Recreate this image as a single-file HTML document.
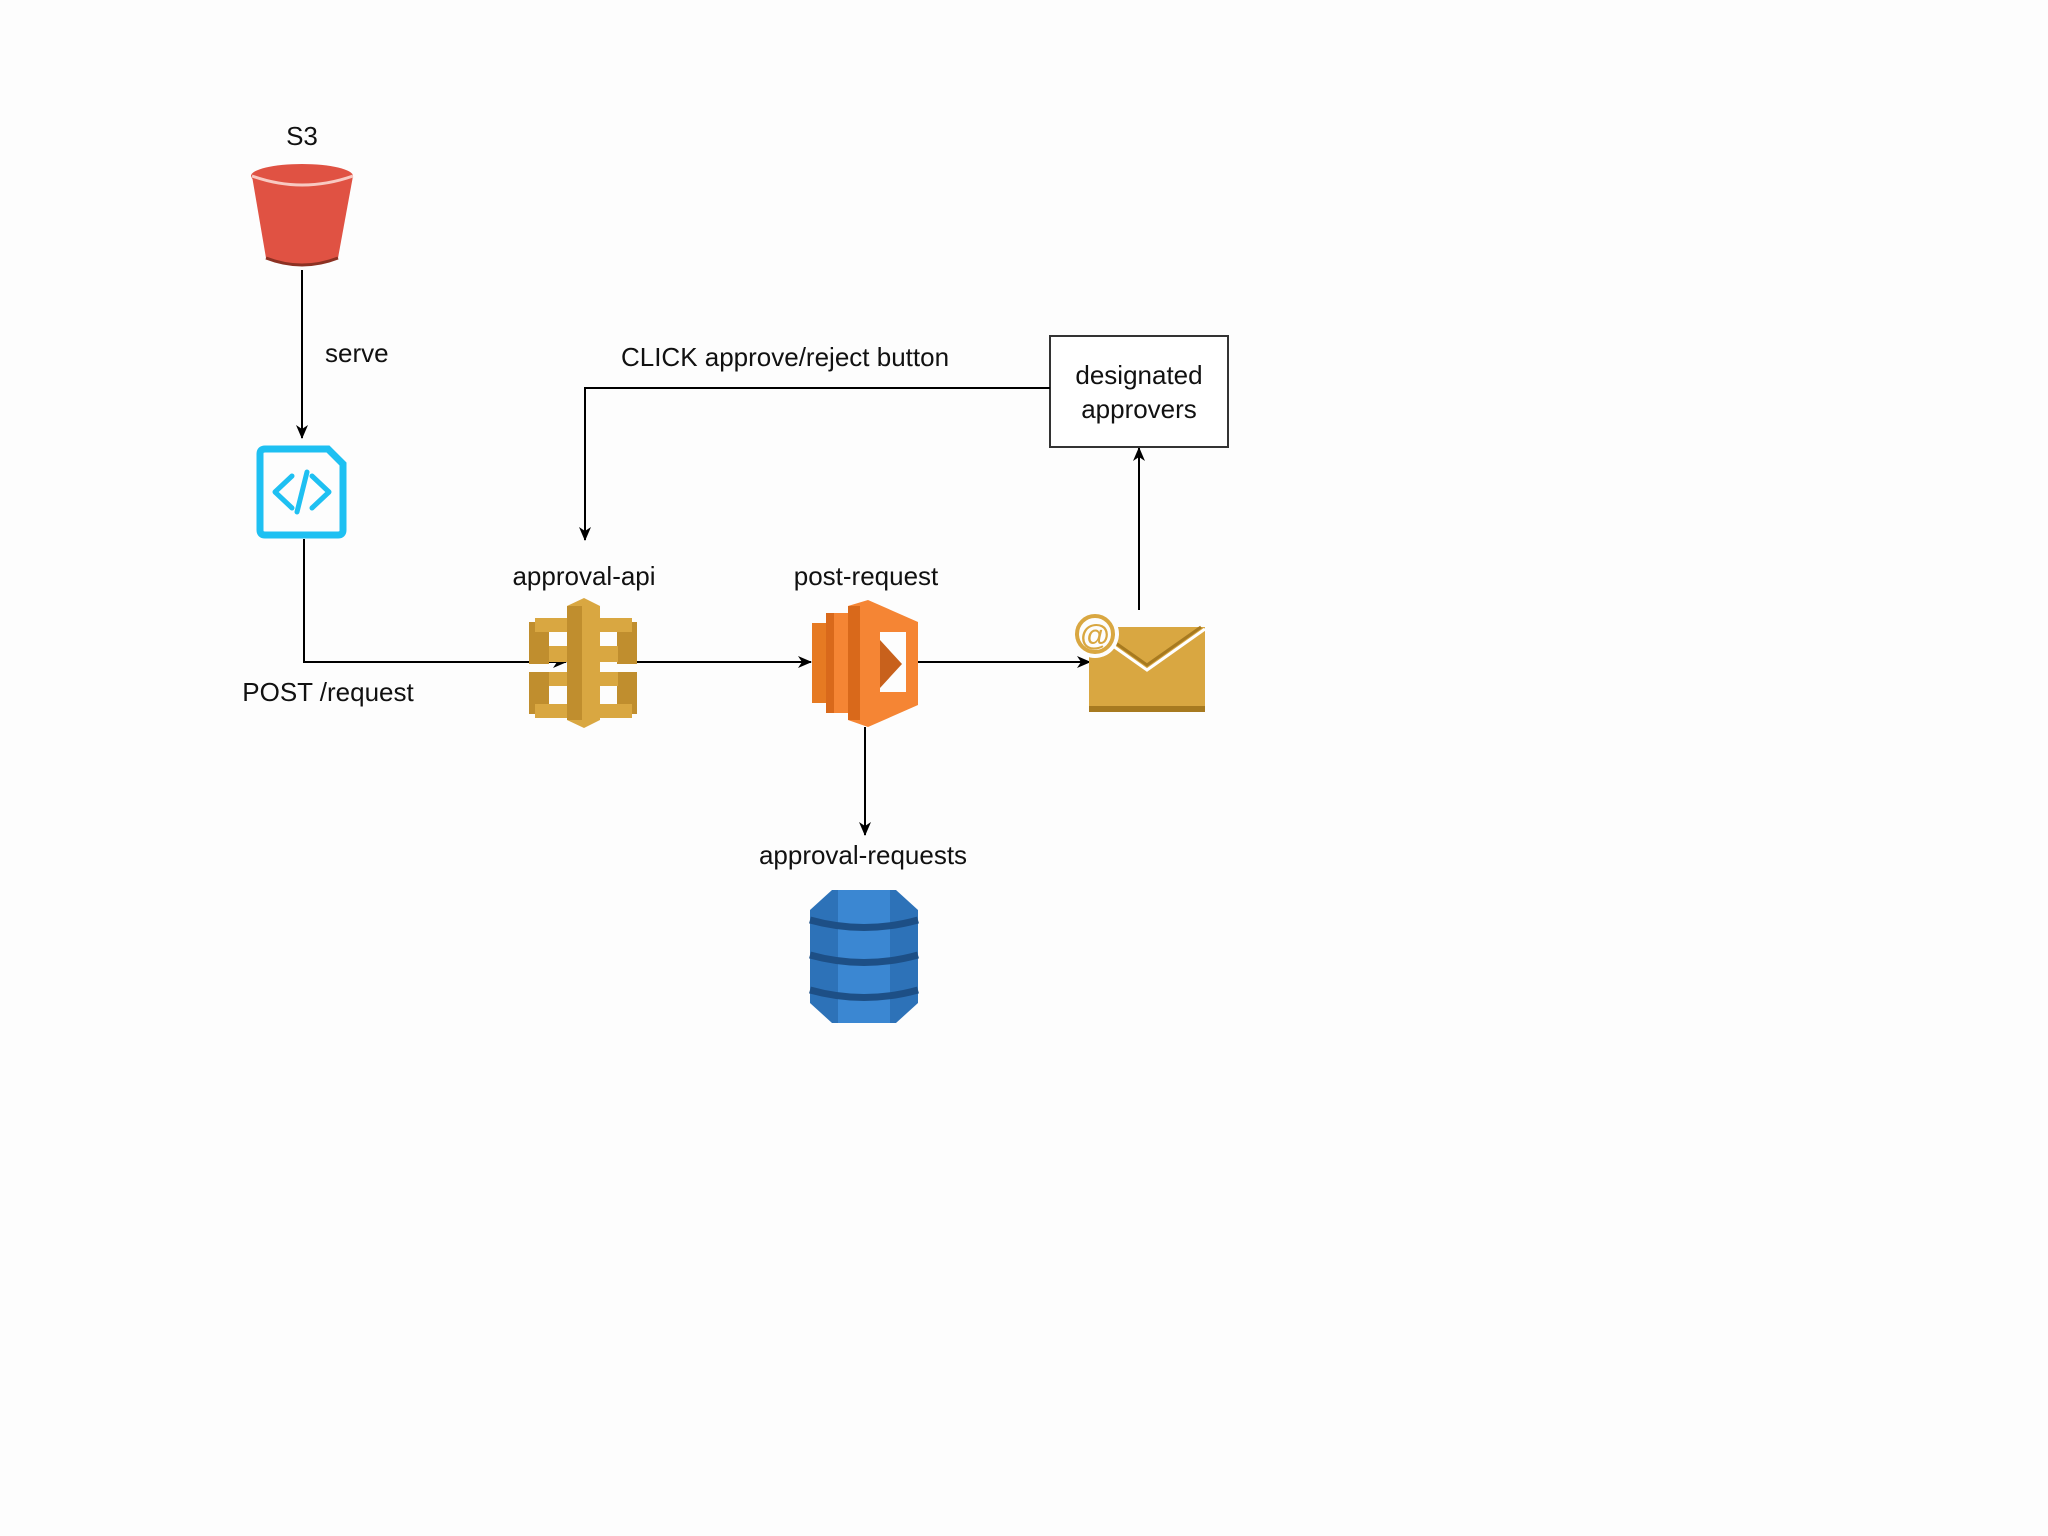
<!DOCTYPE html>
<html><head><meta charset="utf-8"><style>
html,body{margin:0;padding:0;background:#fdfdfd;}
svg{display:block;}
text{font-family:"Liberation Sans",Arial,sans-serif;font-size:26px;fill:#111;}
</style></head><body>
<svg width="2048" height="1536" viewBox="0 0 2048 1536" xmlns="http://www.w3.org/2000/svg">
<defs>
<marker id="ar" markerWidth="14" markerHeight="14" refX="13" refY="7" orient="auto" markerUnits="userSpaceOnUse">
<path d="M0,1 L14,7 L0,13 L4,7 Z" fill="#000"/>
</marker>
</defs>
<rect width="2048" height="1536" fill="#fdfdfd"/>

<!-- S3 -->
<text x="302" y="145" text-anchor="middle">S3</text>
<path d="M252,176 L266,258 Q302,272 338,258 L353,176 Z" fill="#e05243"/>
<ellipse cx="302" cy="176" rx="51" ry="12" fill="#e05243"/>
<path d="M252,176 Q302,194 353,176" stroke="#f8c9c2" stroke-width="3" fill="none"/>
<path d="M266,258 Q302,272 338,258" stroke="#8c3123" stroke-width="3" fill="none"/>

<line x1="302" y1="270" x2="302" y2="438" stroke="#000" stroke-width="2" marker-end="url(#ar)"/>
<text x="325" y="362">serve</text>

<!-- code icon -->
<path d="M265,449 L328,449 L343,464 L343,530 Q343,535 338,535 L265,535 Q260,535 260,530 L260,454 Q260,449 265,449 Z" fill="none" stroke="#1ec0f2" stroke-width="7"/>
<path d="M292,476 L275,492 L292,508 M312,476 L329,492 L312,508 M307,472 L297,512" fill="none" stroke="#1ec0f2" stroke-width="5" stroke-linecap="round" stroke-linejoin="round"/>

<polyline points="304,539 304,662 566,662" fill="none" stroke="#000" stroke-width="2" marker-end="url(#ar)"/>
<text x="328" y="701" text-anchor="middle">POST /request</text>

<!-- API gateway -->
<text x="584" y="585" text-anchor="middle">approval-api</text>
<g fill="#d9a741">
<!-- top left C -->
<rect x="529" y="622" width="20" height="42" fill="#c08e2e"/>
<rect x="535" y="618" width="32" height="14"/>
<rect x="549" y="646" width="18" height="16"/>
<!-- top right C -->
<rect x="617" y="622" width="20" height="42" fill="#c08e2e"/>
<rect x="600" y="618" width="32" height="14"/>
<rect x="600" y="646" width="18" height="16"/>
<!-- bottom left C -->
<rect x="529" y="672" width="20" height="42" fill="#c08e2e"/>
<rect x="549" y="672" width="18" height="14"/>
<rect x="535" y="704" width="32" height="14"/>
<!-- bottom right C -->
<rect x="617" y="672" width="20" height="42" fill="#c08e2e"/>
<rect x="600" y="672" width="18" height="14"/>
<rect x="600" y="704" width="32" height="14"/>
<!-- center bar -->
<path d="M567,606 L584,598 L600,606 L600,720 L584,728 L567,720 Z"/>
<rect x="567" y="606" width="15" height="114" fill="#c08e2e"/>
</g>

<line x1="637" y1="662" x2="811" y2="662" stroke="#000" stroke-width="2" marker-end="url(#ar)"/>

<!-- Lambda -->
<text x="866" y="585" text-anchor="middle">post-request</text>
<rect x="812" y="623" width="14" height="80" fill="#e67a22"/>
<rect x="826" y="613" width="22" height="100" fill="#f58534"/>
<rect x="826" y="613" width="8" height="100" fill="#d9691b"/>
<path d="M848,606 L868,600 L918,622 L918,705 L868,727 L848,720 Z" fill="#f58534"/>
<rect x="848" y="606" width="12" height="114" fill="#d9691b"/>
<rect x="880" y="632" width="26" height="60" fill="#fdfdfd"/>
<path d="M880,640 L880,688 L902,664 Z" fill="#c8611c"/>

<line x1="918" y1="662" x2="1090" y2="662" stroke="#000" stroke-width="2" marker-end="url(#ar)"/>

<!-- email -->
<rect x="1089" y="627" width="116" height="85" fill="#d9a741"/>
<rect x="1089" y="706" width="116" height="6" fill="#a77a20"/>
<path d="M1089,629 L1147,670 L1205,629" stroke="#fff" stroke-width="3" fill="none"/>
<path d="M1093,627 L1147,665 L1201,627" stroke="#a77a20" stroke-width="3" fill="none"/>
<circle cx="1095" cy="634" r="24" fill="#fdfdfd"/>
<circle cx="1095" cy="634" r="18" fill="none" stroke="#d9a741" stroke-width="4"/>
<text x="1095" y="645" text-anchor="middle" style="font-size:30px;fill:#d9a741;font-weight:bold">@</text>

<line x1="1139" y1="610" x2="1139" y2="448" stroke="#000" stroke-width="2" marker-end="url(#ar)"/>

<!-- box -->
<rect x="1050" y="336" width="178" height="111" fill="#fff" stroke="#333" stroke-width="2"/>
<text x="1139" y="384" text-anchor="middle">designated</text>
<text x="1139" y="418" text-anchor="middle">approvers</text>

<polyline points="1050,388 585,388 585,540" fill="none" stroke="#000" stroke-width="2" marker-end="url(#ar)"/>
<text x="785" y="366" text-anchor="middle">CLICK approve/reject button</text>

<line x1="865" y1="727" x2="865" y2="835" stroke="#000" stroke-width="2" marker-end="url(#ar)"/>
<text x="863" y="864" text-anchor="middle">approval-requests</text>

<!-- DynamoDB -->
<path d="M832,890 L896,890 L918,910 L918,1003 L896,1023 L832,1023 L810,1003 L810,910 Z" fill="#2d72b8"/>
<rect x="838" y="890" width="52" height="133" fill="#3b87d2"/>
<path d="M810,920 Q864,935 918,920" stroke="#1d4f86" stroke-width="7" fill="none"/>
<path d="M810,955 Q864,970 918,955" stroke="#1d4f86" stroke-width="7" fill="none"/>
<path d="M810,990 Q864,1005 918,990" stroke="#1d4f86" stroke-width="7" fill="none"/>
</svg>
</body></html>
